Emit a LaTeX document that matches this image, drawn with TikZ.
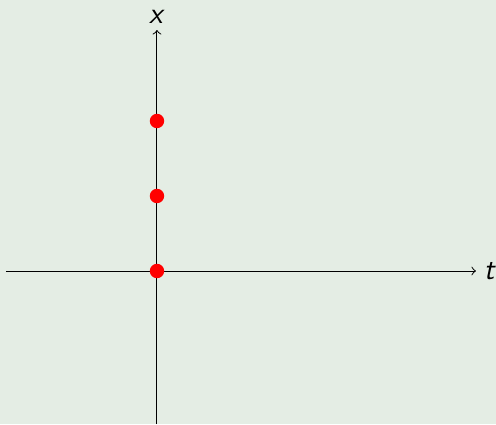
\documentclass[tikz,border=0pt]{standalone}
\definecolor{bgpale}{RGB}{228,237,228}
\tikzset{pt/.style={circle, fill=red, inner sep=0pt, minimum size=5.8pt}}
\begin{document}
\begin{tikzpicture}[x=1.06cm, y=1.06cm]
    \fill[bgpale] (-2.093,-2.04) rectangle (4.52,3.613);
    \useasboundingbox (-2.093,-2.04) rectangle (4.52,3.613);
    \coordinate (tl) at (-2.013,0);
    \coordinate (tr) at (4.253,0);
    \coordinate (xb) at (0,-2.04);
    \coordinate (xt) at (0,3.213);
    \draw[->] (tl) -- (tr) node[right, inner sep=2pt, xshift=1pt] (tlab) {\large\textsf{\textit{t}}};
    \draw[->] (xb) -- (xt) node[above, yshift=-1pt] (xlab) {\large\textsf{\textit{x}}};
    \node[pt] (p0) at (0,0) {};
    \node[pt] (p1) at (0,1) {};
    \node[pt] (p2) at (0,2) {};
\end{tikzpicture}
\end{document}
